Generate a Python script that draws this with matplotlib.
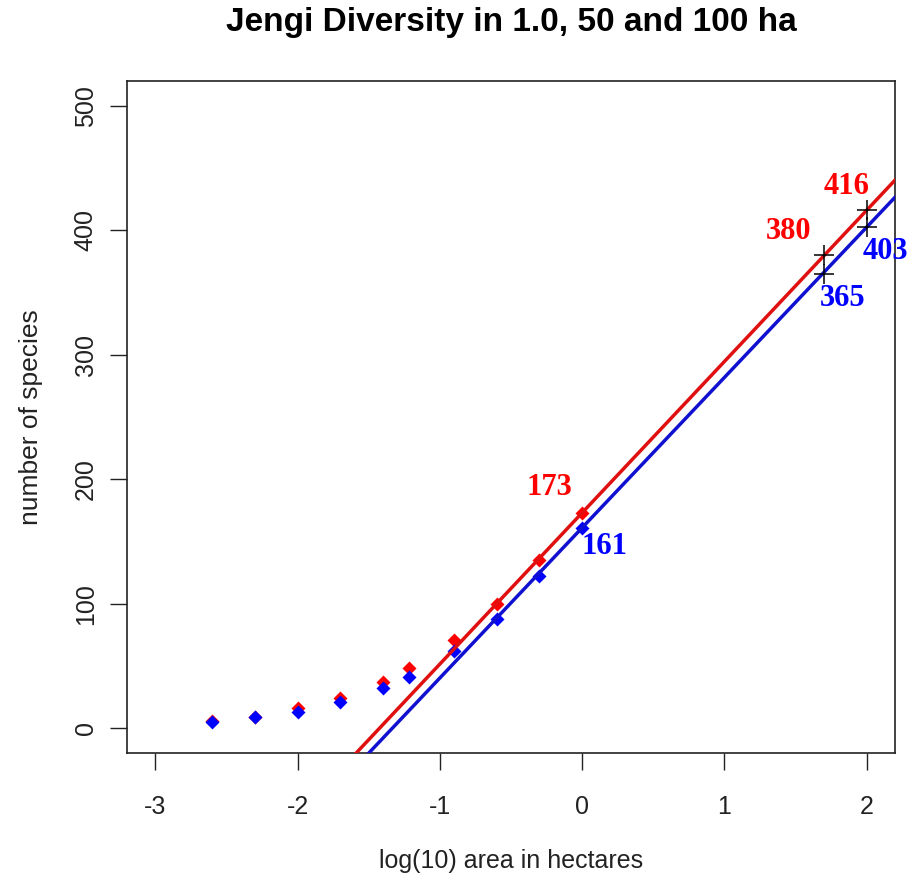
import numpy as np
import matplotlib
matplotlib.use("Agg")
import matplotlib.pyplot as plt

# log10 of sampled area (ha) and species counts
log_area = [-2.60, -2.30, -2.00, -1.70, -1.40, -1.22, -0.90, -0.60, -0.30, 0.00]
species_red = [6, 9, 16, 24, 37, 48, 71, 100, 135, 173]
species_blue = [5, 9, 13, 21, 32, 41, 62, 88, 122, 161]

# fitted lines: intercept, slope
fit_red = (173, 121.5)
fit_blue = (161, 120.7)

# extrapolated values at 50 and 100 ha
pred_x = [np.log10(50), 2.0]
pred_red = [380, 416]
pred_blue = [365, 403]

plt.rcParams['font.family'] = ['Liberation Sans', 'DejaVu Sans']
plt.rcParams['axes.unicode_minus'] = False

fig = plt.figure(figsize=(9.1, 8.84), dpi=100)
ax = fig.add_axes([0.1396, 0.1482, 0.8439, 0.7602])

ax.plot(log_area, species_red, 'D', color='red', markersize=7.5, mec='none', zorder=2)
ax.plot(log_area, species_blue, 'D', color='blue', markersize=7.5, mec='none', zorder=3)

xx = np.array([-3.5, 2.5])
ax.plot(xx, fit_red[0] + fit_red[1] * xx, color='#e01010', lw=2.5, zorder=4)
ax.plot(xx, fit_blue[0] + fit_blue[1] * xx, color='#1010d0', lw=2.5, zorder=4)

ax.plot(pred_x, pred_red, '+', color='black', markersize=15, mew=1.1, zorder=5)
ax.plot(pred_x, pred_blue, '+', color='black', markersize=15, mew=1.1, zorder=5)

lab = dict(family='Liberation Serif', fontweight='bold', fontsize=22,
           ha='center', va='center')
ax.text(-0.23, 193, '173', color='red', **lab)
ax.text(1.45, 399, '380', color='red', **lab)
ax.text(1.86, 435, '416', color='red', **lab)
ax.text(0.16, 146, '161', color='blue', **lab)
ax.text(1.83, 345, '365', color='blue', **lab)
ax.text(2.13, 383, '403', color='blue', **lab)

ax.set_xlim(-3.2, 2.2)
ax.set_ylim(-20, 520)
ax.set_xticks([-3, -2, -1, 0, 1, 2])
ax.set_yticks([0, 100, 200, 300, 400, 500])
ax.tick_params(length=12, width=1, labelsize=18, colors='#222222')
ax.tick_params(axis='x', pad=18)
ax.tick_params(axis='y', pad=9)
for lbl in ax.get_yticklabels():
    lbl.set_rotation(90)
    lbl.set_va('center')
for s in ax.spines.values():
    s.set_linewidth(1.2)
    s.set_color('#222222')

ax.set_xlabel('log(10) area in hectares', fontsize=18, labelpad=22, color='#222222')
ax.set_ylabel('number of species', fontsize=19, labelpad=22, color='#222222')
fig.text(0.5615, 1 - 22 / 884, 'Jengi Diversity in 1.0, 50 and 100 ha',
         fontsize=24, fontweight='bold', ha='center', va='center')

fig.savefig('out.png', dpi=100)
